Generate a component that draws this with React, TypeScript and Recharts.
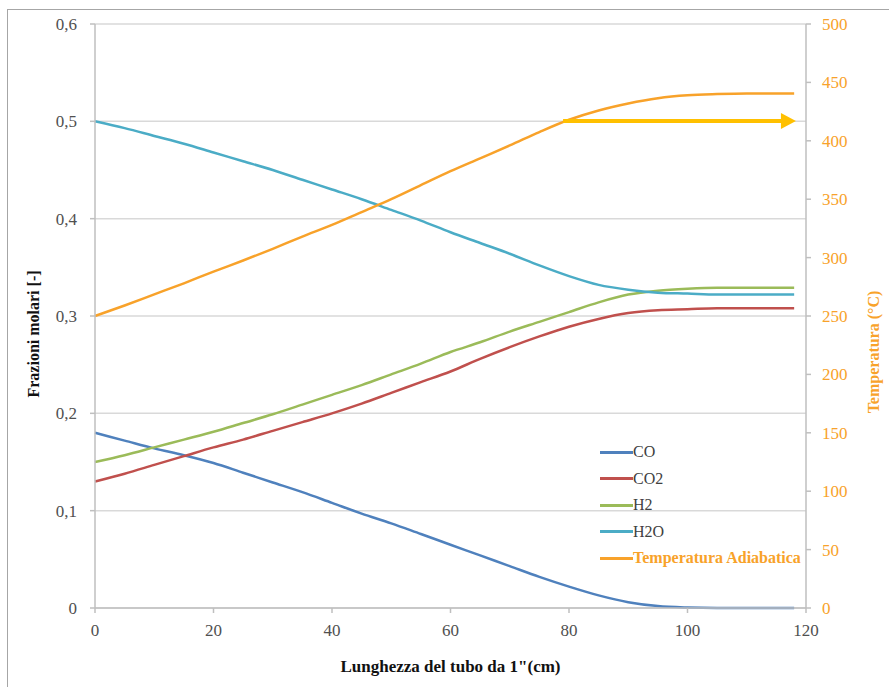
import React from 'react';
import {
  LineChart,
  Line,
  XAxis,
  YAxis,
  CartesianGrid,
  ReferenceLine,
} from 'recharts';

// tube length (cm)
const lengths = [0, 5, 10, 15, 20, 25, 30, 35, 40, 45, 50, 55, 60, 65, 70, 75, 80, 85, 90, 95, 100, 105, 110, 115, 118];

// molar fractions [-]
const co = [0.18, 0.172, 0.164, 0.157, 0.149, 0.139, 0.129, 0.119, 0.108, 0.097, 0.087, 0.076, 0.065, 0.054, 0.043, 0.032, 0.022, 0.013, 0.006, 0.002, 0.0005, 0, 0, 0, 0];
const co2 = [0.13, 0.138, 0.147, 0.156, 0.165, 0.173, 0.182, 0.191, 0.2, 0.21, 0.221, 0.232, 0.243, 0.256, 0.268, 0.279, 0.289, 0.297, 0.303, 0.306, 0.307, 0.308, 0.308, 0.308, 0.308];
const h2 = [0.15, 0.157, 0.165, 0.173, 0.181, 0.19, 0.199, 0.209, 0.219, 0.229, 0.24, 0.251, 0.263, 0.273, 0.284, 0.294, 0.304, 0.314, 0.322, 0.326, 0.328, 0.329, 0.329, 0.329, 0.329];
const h2o = [0.5, 0.493, 0.485, 0.477, 0.468, 0.459, 0.45, 0.44, 0.43, 0.42, 0.409, 0.398, 0.386, 0.375, 0.364, 0.352, 0.341, 0.332, 0.327, 0.324, 0.323, 0.322, 0.322, 0.322, 0.322];

// adiabatic temperature (°C)
const temperature = [250, 259, 268.5, 278, 288, 297.5, 307.5, 318, 328, 339, 350, 362, 374, 385, 396, 407.5, 418, 426, 432, 436.5, 439, 440, 440.5, 440.5, 440.5];

const xTicks = [0, 20, 40, 60, 80, 100, 120];
const fractionTicks = [0, 0.1, 0.2, 0.3, 0.4, 0.5, 0.6];
const tempTicks = [0, 50, 100, 150, 200, 250, 300, 350, 400, 450, 500];

// horizontal arrow marking the outlet temperature
const arrowFrom = 79;
const arrowTo = 118.3;
const arrowTemp = 417;

const data = lengths.map((x, i) => ({
  x,
  co: co[i],
  co2: co2[i],
  h2: h2[i],
  h2o: h2o[i],
  temp: temperature[i],
}));

const FONT = 'Liberation Serif';
const ORANGE = '#F8A22A';
const AXIS_GRAY = '#BFBFBF';

const series = [
  { key: 'co', name: 'CO', color: '#4F81BD', axis: 'left' },
  { key: 'co2', name: 'CO2', color: '#C0504D', axis: 'left' },
  { key: 'h2', name: 'H2', color: '#9BBB59', axis: 'left' },
  { key: 'h2o', name: 'H2O', color: '#4BACC6', axis: 'left' },
  { key: 'temp', name: 'Temperatura Adiabatica', color: ORANGE, axis: 'right' },
];

const fmtFraction = (v: number) => (v === 0 ? '0' : v.toFixed(1).replace('.', ','));

const tickStyle = (fill: string) => ({ fill, fontSize: 17, fontFamily: FONT });

const Arrow = (props: any) => {
  const { x1, y1, x2 } = props;
  const head = 15;
  return (
    <g>
      <line x1={x1} y1={y1} x2={x2 - head + 1} y2={y1} stroke="#FFC000" strokeWidth={4} />
      <polygon points={`${x2},${y1} ${x2 - head},${y1 - 8} ${x2 - head},${y1 + 8}`} fill="#FFC000" />
    </g>
  );
};

function SeriesLegend() {
  return (
    <div style={{ position: 'absolute', left: 600, top: 439, fontFamily: FONT, fontSize: 16 }}>
      {series.map((s) => {
        const isTemp = s.key === 'temp';
        return (
          <div key={s.key} style={{ display: 'flex', alignItems: 'center', height: 26.5 }}>
            <span style={{ display: 'inline-block', width: 33, height: 3, background: s.color }} />
            <span
              style={{
                color: isTemp ? ORANGE : '#404040',
                fontWeight: isTemp ? 'bold' : 'normal',
                whiteSpace: 'nowrap',
              }}
            >
              {s.name}
            </span>
          </div>
        );
      })}
    </div>
  );
}

export default function App() {
  return (
    <div
      style={{
        position: 'absolute',
        left: 0,
        top: 0,
        width: 889,
        height: 687,
        overflow: 'hidden',
        background: '#fff',
        fontFamily: FONT,
      }}
    >
      <div
        style={{
          position: 'absolute',
          left: 7,
          top: 9,
          width: 900,
          height: 700,
          border: '1.5px solid #A6A6A6',
        }}
      />
      <div style={{ position: 'absolute', left: 0, top: 0 }}>
        <LineChart width={889} height={687} data={data} margin={{ top: 24, right: 0, bottom: 0, left: 0 }}>
          <CartesianGrid yAxisId="left" vertical={false} stroke="#D9D9D9" strokeWidth={1.5} />
          <XAxis
            dataKey="x"
            type="number"
            domain={[0, 120]}
            ticks={xTicks}
            height={79}
            stroke={AXIS_GRAY}
            strokeWidth={1.5}
            tickSize={5}
            tickMargin={11}
            tick={tickStyle('#505050')}
            label={{
              content: ({ viewBox }: any) => (
                <text
                  x={viewBox.x + viewBox.width / 2}
                  y={666}
                  textAnchor="middle"
                  dominantBaseline="central"
                  fontFamily={FONT}
                  fontSize={17}
                  fontWeight="bold"
                  fill="#111"
                >
                  Lunghezza del tubo da 1"(cm)
                </text>
              ),
            }}
          />
          <YAxis
            yAxisId="left"
            orientation="left"
            domain={[0, 0.6]}
            ticks={fractionTicks}
            width={95}
            stroke={AXIS_GRAY}
            strokeWidth={1.5}
            tickSize={5}
            tickMargin={13}
            tickFormatter={fmtFraction}
            tick={tickStyle('#505050')}
            label={{
              content: () => (
                <text
                  x={33}
                  y={334}
                  transform="rotate(-90 33 334)"
                  textAnchor="middle"
                  dominantBaseline="central"
                  fontFamily={FONT}
                  fontSize={16}
                  fontWeight="bold"
                  fill="#111"
                >
                  Frazioni molari [-]
                </text>
              ),
            }}
          />
          <YAxis
            yAxisId="right"
            orientation="right"
            domain={[0, 500]}
            ticks={tempTicks}
            width={83}
            stroke={AXIS_GRAY}
            strokeWidth={1.5}
            tickSize={5}
            tickMargin={11}
            tick={tickStyle(ORANGE)}
            label={{
              content: () => (
                <text
                  x={873}
                  y={352}
                  transform="rotate(-90 873 352)"
                  textAnchor="middle"
                  dominantBaseline="central"
                  fontFamily={FONT}
                  fontSize={16}
                  fontWeight="bold"
                  fill={ORANGE}
                >
                  Temperatura (°C)
                </text>
              ),
            }}
          />
          {series.map((s) => (
            <Line
              key={s.key}
              yAxisId={s.axis}
              type="monotone"
              dataKey={s.key}
              name={s.name}
              stroke={s.color}
              strokeWidth={2.5}
              dot={false}
              isAnimationActive={false}
            />
          ))}
          <ReferenceLine
            yAxisId="right"
            segment={[{ x: arrowFrom, y: arrowTemp }, { x: arrowTo, y: arrowTemp }]}
            shape={<Arrow />}
          />
        </LineChart>
      </div>
      <SeriesLegend />
    </div>
  );
}
